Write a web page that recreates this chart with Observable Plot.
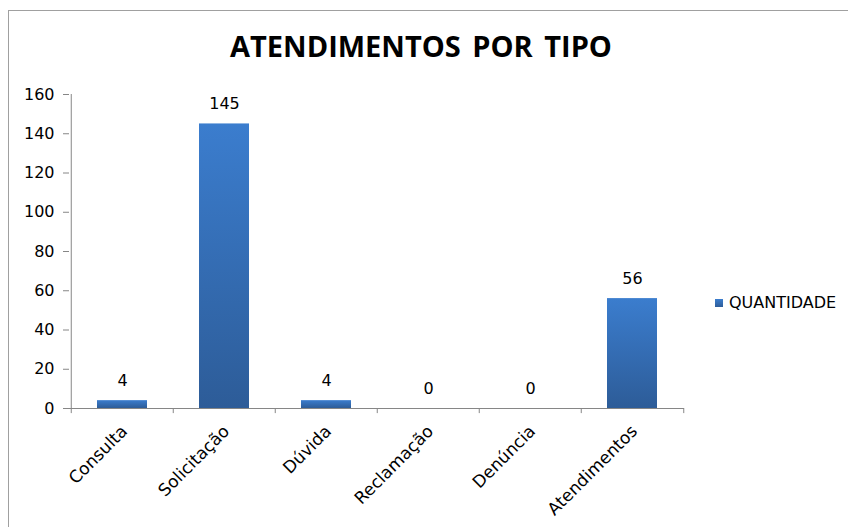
<!DOCTYPE html>
<html>
<head>
<meta charset="utf-8">
<script src="https://cdn.jsdelivr.net/npm/d3@7"></script>
<script src="https://cdn.jsdelivr.net/npm/@observablehq/plot@0.6"></script>
<style>
  html, body { margin: 0; padding: 0; background: #fff; }
  #wrap { position: relative; width: 848px; height: 527px; overflow: hidden; font-family: "DejaVu Sans", sans-serif; }
  #frame { position: absolute; left: 8px; top: 10px; right: -5px; bottom: -5px; border-top: 1px solid #a0a0a0; border-left: 1px solid #a0a0a0; }
  #title { position: absolute; left: 0; top: 26px; width: 842px; text-align: center; font-family: "Open Sans", sans-serif; font-weight: 700; font-size: 29px; line-height: 40px; color: #000; word-spacing: 4px; }
  #chart { position: absolute; left: 0; top: 80px; }
  #legend { position: absolute; left: 715px; top: 292px; display: flex; align-items: center; font-size: 16px; line-height: 22px; color: #000; }
  #legend .sw { width: 8px; height: 8px; margin-right: 6px; background: linear-gradient(#3b7dce, #2e5d99); }
</style>
</head>
<body>
<div id="wrap">
  <div id="frame"></div>
  <div id="title">ATENDIMENTOS POR TIPO</div>
  <div id="chart"></div>
  <div id="legend"><span class="sw"></span><span>QUANTIDADE</span></div>
</div>
<script>
const categories = ["Consulta", "Solicitação", "Dúvida", "Reclamação", "Denúncia", "Atendimentos"];
const values = [4, 145, 4, 0, 0, 56];
const yTicks = [0, 20, 40, 60, 80, 100, 120, 140, 160];
const seriesName = "QUANTIDADE";

const data = categories.map((c, i) => ({tipo: c, valor: values[i]}));

const W = 848, H = 447, mL = 69, mR = 164, mT = 14, mB = 119;
const halfStep = (W - mL - mR) / categories.length / 2;
const axisGray = "#868686";

const plot = Plot.plot({
  width: W, height: H,
  marginLeft: mL, marginRight: mR, marginTop: mT, marginBottom: mB,
  style: {fontFamily: "'DejaVu Sans', sans-serif", fontSize: "16px", color: "#000", background: "transparent"},
  x: {type: "band", domain: categories, paddingInner: 0.51, paddingOuter: 0.255, label: null},
  y: {domain: [0, 160], label: null},
  marks: [
    Plot.barY(data, {x: "tipo", y: "valor", fill: "url(#barGrad)"}),
    Plot.ruleY([0], {stroke: axisGray}),
    Plot.ruleX([categories[0]], {dx: -halfStep, stroke: axisGray}),
    Plot.ruleX(categories, {x: d => d, y1: 0, y2: -2.6, dx: -halfStep, stroke: axisGray}),
    Plot.ruleX([categories[categories.length - 1]], {y1: 0, y2: -2.6, dx: halfStep, stroke: axisGray}),
    Plot.axisY({ticks: yTicks, tickSize: 6, tickPadding: 9, stroke: axisGray, fill: "#000", fontSize: 16}),
    Plot.axisX({tickSize: 0, tickRotate: -45, tickPadding: 20, dx: 2, fill: "#000", fontSize: 17}),
    Plot.text(data, {x: "tipo", y: "valor", text: d => String(d.valor), dy: -20, fill: "#000", fontSize: 16})
  ]
});

const svg = d3.select(plot);
const defs = svg.insert("defs", ":first-child");
const g = defs.append("linearGradient").attr("id", "barGrad").attr("x1", 0).attr("y1", 0).attr("x2", 0).attr("y2", 1);
g.append("stop").attr("offset", "0%").attr("stop-color", "#3b7dce");
g.append("stop").attr("offset", "100%").attr("stop-color", "#2d5c98");

document.getElementById("chart").appendChild(plot);
</script>
</body>
</html>
